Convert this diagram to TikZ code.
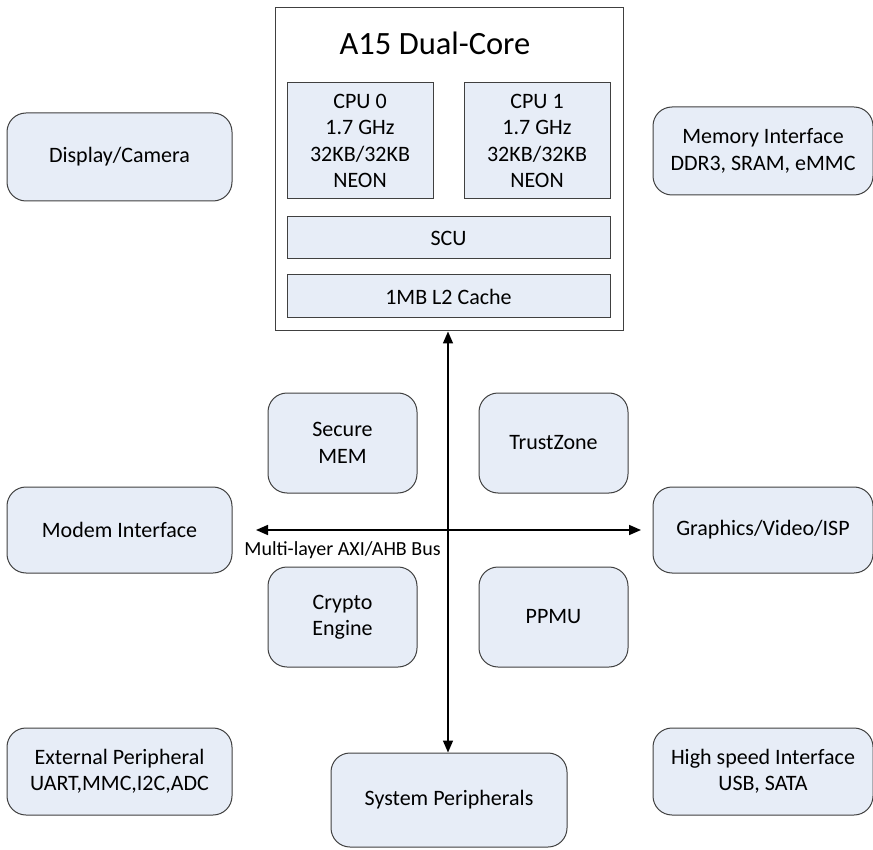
\documentclass[tikz,border=0pt]{standalone}
\usepackage{fontspec}
\setmainfont{Carlito}
\usetikzlibrary{arrows.meta}
\definecolor{boxfill}{HTML}{E7EDF7}
\definecolor{boxline}{HTML}{404040}
\tikzset{
  blk/.style={draw=boxline, line width=1pt, fill=boxfill, inner sep=0pt, align=center,
    font=\fontsize{22}{26.5}\selectfont},
  rblk/.style={blk, rounded corners=19pt},
  busarrow/.style={line width=1.6pt, {Triangle[length=12pt,width=10pt]}-{Triangle[length=12pt,width=10pt]}}
}
\begin{document}
\begin{tikzpicture}[x=1pt,y=-1pt]
\useasboundingbox (0,0) rectangle (873,850);
% main box
\node[draw=boxline, line width=1pt, fill=white, inner sep=0pt, minimum width=348pt, minimum height=323pt, anchor=north west] (a15) at (274.5,7.5) {};
\node[font=\fontsize{32.5}{38}\selectfont, anchor=base] (title) at (435,55) {A15 Dual-Core};
\node[blk, minimum width=146pt, minimum height=116pt] (cpu0) at (360,141) {CPU 0\\1.7 GHz\\32KB/32KB\\NEON};
\node[blk, minimum width=146pt, minimum height=116pt] (cpu1) at (537,141) {CPU 1\\1.7 GHz\\32KB/32KB\\NEON};
\node[blk, minimum width=323pt, minimum height=42pt] (scu) at (448.5,238) {SCU};
\node[blk, minimum width=323pt, minimum height=43pt] (l2) at (448.5,296.5) {1MB L2 Cache};
% outer rounded boxes
\node[rblk, minimum width=225pt, minimum height=88pt] (disp) at (119.5,157) {Display/Camera};
\node[rblk, minimum width=220pt, minimum height=88pt] (mem) at (763,151) {Memory Interface\\DDR3, SRAM, eMMC};
\node[rblk, minimum width=149pt, minimum height=100pt] (smem) at (342.5,443) {Secure\\MEM};
\node[rblk, minimum width=149pt, minimum height=100pt] (tz) at (553.5,443) {TrustZone};
\node[rblk, minimum width=225pt, minimum height=86pt] (modem) at (119.5,530) {Modem Interface};
\node[rblk, minimum width=220pt, minimum height=86pt] (gfx) at (763,530) {Graphics/Video/ISP};
\node[rblk, minimum width=149pt, minimum height=100pt] (crypto) at (342.5,617) {Crypto\\Engine};
\node[rblk, minimum width=149pt, minimum height=100pt] (ppmu) at (553.5,617) {PPMU};
\node[rblk, minimum width=225pt, minimum height=87pt] (ext) at (119.5,771.5) {External Peripheral\\UART,MMC,I2C,ADC};
\node[rblk, minimum width=220pt, minimum height=87pt] (hs) at (763,771.5) {High speed Interface\\USB, SATA};
\node[rblk, minimum width=236pt, minimum height=94pt] (sys) at (449,800) {System Peripherals};
% bus
\coordinate (busL) at (256,530);
\coordinate (busR) at (641,530);
\draw[busarrow] (busL) -- (busR);
\draw[busarrow] (a15.south -| 448,0) -- (sys.north -| 448,0);
\node[font=\fontsize{20}{24}\selectfont, anchor=base] (buslbl) at (342.5,555) {Multi-layer AXI/AHB Bus};
\end{tikzpicture}
\end{document}
